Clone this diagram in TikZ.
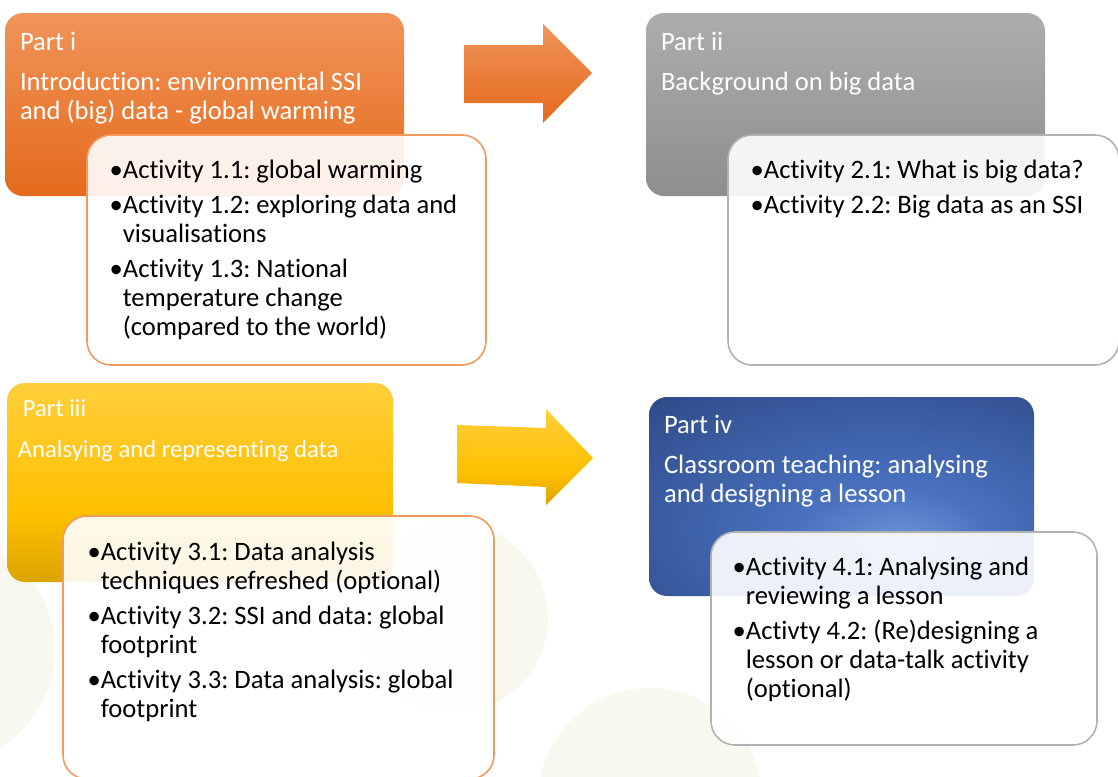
\documentclass[tikz,border=0pt]{standalone}
\usepackage{fontspec}
\setmainfont{Carlito}[Ligatures={CommonOff}]
\usetikzlibrary{shapes.geometric, positioning, calc, fit}
\frenchspacing
\definecolor{orangetop}{HTML}{F19459}
\definecolor{orangebot}{HTML}{E46A1C}
\definecolor{orangeline}{HTML}{F29A5E}
\definecolor{greytop}{HTML}{ADADAD}
\definecolor{greybot}{HTML}{8E8E8E}
\definecolor{greyline}{HTML}{B2B2B2}
\definecolor{yellowtop}{HTML}{FFD966}
\definecolor{yellowmid}{HTML}{FFC000}
\definecolor{yellowbot}{HTML}{A47B00}
\definecolor{bluelight}{HTML}{7094D6}
\definecolor{bluemid}{HTML}{4A72C0}
\definecolor{bluedark}{HTML}{2E4B88}
\definecolor{circlefill}{HTML}{F8F8EE}
\pgfdeclareradialshading{partblue}{\pgfpoint{8bp}{-12bp}}{color(0bp)=(bluelight); color(12bp)=(bluemid); color(42bp)=(bluedark); color(80bp)=(bluedark)}
\pgfdeclareverticalshading{partyellow}{100bp}{color(0bp)=(yellowbot); color(42bp)=(yellowmid); color(100bp)=(yellowtop)}
\newcommand{\boxfont}{\fontsize{13.3}{14.5}\selectfont}
\newcommand{\smallboxfont}{\fontsize{12.3}{14.5}\selectfont}
\newcommand{\bul}{\textbullet}
\newcommand{\actind}{\phantom{\textbullet}}
\newcommand{\topstrut}{\rule{0pt}{11pt}}

\begin{document}
\begin{tikzpicture}[
        x=0.5pt, y=-0.5pt,
        partbox/.style={rectangle, rounded corners=9pt, inner sep=0pt},
        actbox/.style={rectangle, rounded corners=12pt, inner sep=0pt, fill=white,
            fill opacity=0.9, line width=0.8pt},
        headtext/.style={text=white, font=\boxfont, align=left, inner sep=0pt, anchor=north west},
        acttext/.style={text=black, font=\boxfont, align=left, inner sep=0pt, anchor=north west}
    ]
    \useasboundingbox (0,0) rectangle (1118,776);

    % faint circles in the background
    \fill[circlefill] (453,618) circle[radius=47.5pt];
    \fill[circlefill] (650,800) circle[radius=56pt];
    \fill[circlefill] (-60,650) circle[radius=57.5pt];

    % part boxes
    \node[partbox, fit={(5,13) (404,196)}, top color=orangetop, bottom color=orangebot] (p1) {};
    \node[partbox, fit={(646,13) (1045,196)}, top color=greytop, bottom color=greybot] (p2) {};
    \node[partbox, fit={(7,383) (393,582)}, shading=partyellow] (p3) {};
    \node[partbox, fit={(649,397) (1034,596)}, shading=partblue] (p4) {};

    % arrows between the parts
    \shade[top color=orangetop, bottom color=orangebot]
        (464,45) -- (543,45) -- (543,24) -- (592,73) -- (543,123) -- (543,103) -- (464,103) -- cycle;
    \shade[shading=partyellow]
        (457,425) -- (546,428) -- (546,409) -- (593,458) -- (546,505) -- (546,487) -- (457,483) -- cycle;

    % activity boxes
    \node[actbox, draw=orangeline, fit={(87,135) (486,365)}] (a1) {};
    \node[actbox, draw=greyline, fit={(728,135) (1119,365)}] (a2) {};
    \node[actbox, draw=orangeline, fit={(63,516) (494,779)}] (a3) {};
    \node[actbox, draw=greyline, fit={(711,532) (1097,745)}] (a4) {};

    % headings
    \node[headtext] (h1) at ([xshift=7.5pt, yshift=-7.5pt]p1.north west)
        {\topstrut Part i\\[5.5pt] Introduction: environmental SSI\\ and (big) data - global warming};
    \node[headtext] (h2) at ([xshift=7.5pt, yshift=-7.5pt]p2.north west)
        {\topstrut Part ii\\[5.5pt] Background on big data};
    \node[headtext, font=\smallboxfont] (h3) at ([xshift=8pt, yshift=-5.5pt]p3.north west)
        {\topstrut Part iii\\[6pt] \hspace*{-2.5pt}Analsying and representing data};
    \node[headtext] (h4) at ([xshift=7.5pt, yshift=-7pt]p4.north west)
        {\topstrut Part iv\\[5.5pt] Classroom teaching: analysing\\ and designing a lesson};

    % activity lists
    \node[acttext] (l1) at ([xshift=11.5pt, yshift=-11pt]a1.north west)
        {\topstrut\bul Activity 1.1: global warming\\[3pt]
         \bul Activity 1.2: exploring data and\\ \actind visualisations\\[3pt]
         \bul Activity 1.3: National\\ \actind temperature change\\ \actind (compared to the world)};
    \node[acttext] (l2) at ([xshift=11.5pt, yshift=-11pt]a2.north west)
        {\topstrut\bul Activity 2.1: What is big data?\\[3pt]
         \bul Activity 2.2: Big data as an SSI};
    \node[acttext] (l3) at ([xshift=12.5pt, yshift=-11.5pt]a3.north west)
        {\topstrut\bul Activity 3.1: Data analysis\\ \actind techniques refreshed (optional)\\[3pt]
         \bul Activity 3.2: SSI and data: global\\ \actind footprint\\[3pt]
         \bul Activity 3.3: Data analysis: global\\ \actind footprint};
    \node[acttext] (l4) at ([xshift=11pt, yshift=-11pt]a4.north west)
        {\topstrut\bul Activity 4.1: Analysing and\\ \actind reviewing a lesson\\[3pt]
         \bul Activty 4.2: (Re)designing a\\ \actind lesson or data-talk activity\\ \actind (optional)};
\end{tikzpicture}
\end{document}
